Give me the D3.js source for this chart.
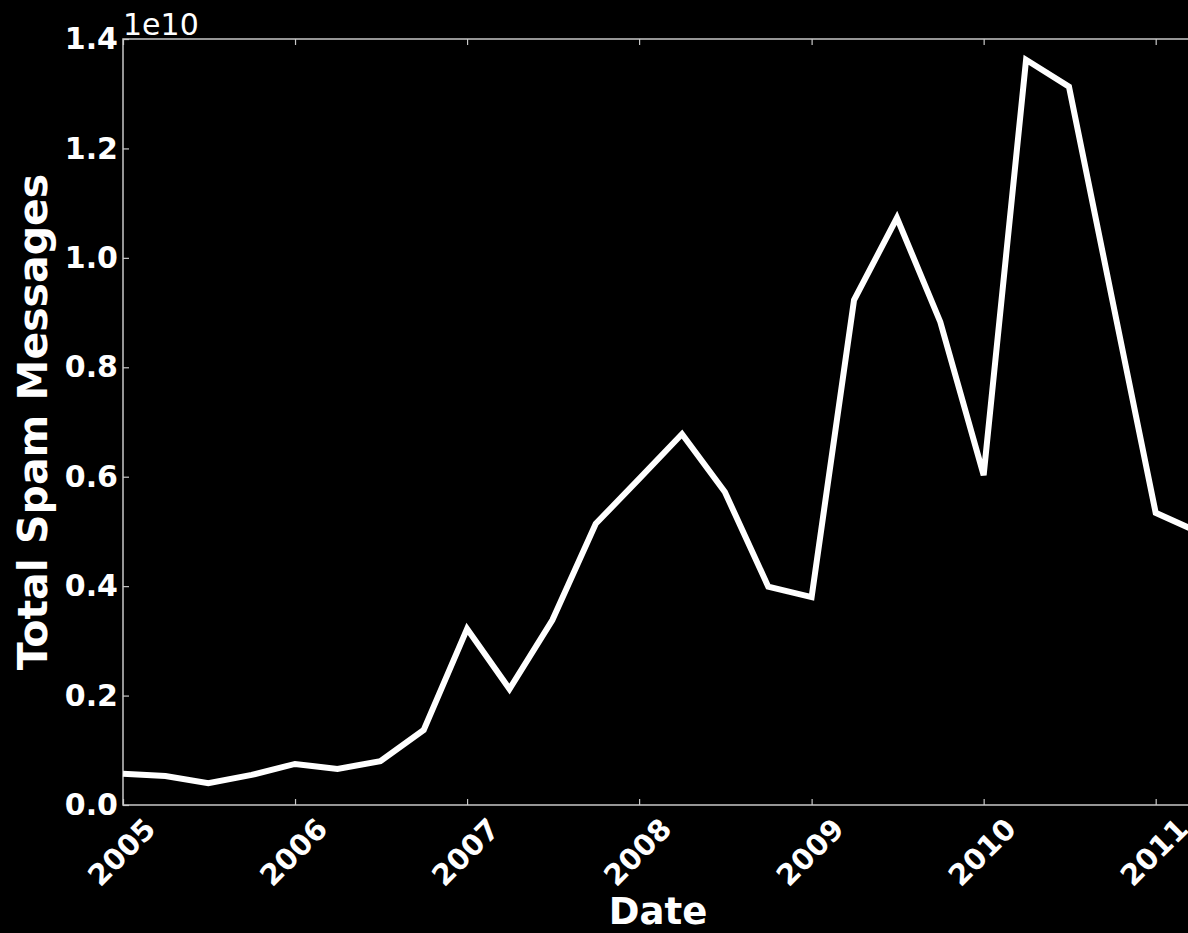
<!DOCTYPE html>
<html>
<head>
<meta charset="utf-8">
<script src="https://cdn.jsdelivr.net/npm/d3@7"></script>
<style>
  html, body { margin: 0; padding: 0; background: #000; }
  svg { display: block; font-family: "DejaVu Sans", sans-serif; }
</style>
</head>
<body>
<div id="chart"></div>
<script>
// quarterly totals (spam messages)
var dates = ["2005-01-01","2005-04-01","2005-07-01","2005-10-01",
             "2006-01-01","2006-04-01","2006-07-01","2006-10-01",
             "2007-01-01","2007-04-01","2007-07-01","2007-10-01",
             "2008-01-01","2008-04-01","2008-07-01","2008-10-01",
             "2009-01-01","2009-04-01","2009-07-01","2009-10-01",
             "2010-01-01","2010-04-01","2010-07-01","2010-10-01",
             "2011-01-01","2011-04-01"];
var spam = [0.057e10, 0.053e10, 0.040e10, 0.055e10,
            0.075e10, 0.066e10, 0.080e10, 0.137e10,
            0.322e10, 0.212e10, 0.338e10, 0.514e10,
            0.596e10, 0.678e10, 0.572e10, 0.399e10,
            0.380e10, 0.923e10, 1.073e10, 0.883e10,
            0.603e10, 1.362e10, 1.313e10, 0.923e10,
            0.534e10, 0.499e10];
var yTicks = [0, 0.2e10, 0.4e10, 0.6e10, 0.8e10, 1.0e10, 1.2e10, 1.4e10];
var xTickYears = ["2005","2006","2007","2008","2009","2010","2011"];

var W = 1188, H = 933;
var margin = {top: 39, left: 123, bottom: 128};
var height = H - margin.top - margin.bottom;
var parse = d3.timeParse("%Y-%m-%d");
var data = dates.map(function(d, i) { return {date: parse(d), value: spam[i]}; });

var xScale = d3.scaleTime()
    .domain([parse("2005-01-01"), parse("2011-07-01")])
    .range([0, 6.5 * 172]);
var width = xScale.range()[1];

var yScale = d3.scaleLinear()
    .domain([0, 1.4e10])
    .range([height, 0]);

var svg = d3.select("#chart").append("svg")
    .attr("width", W)
    .attr("height", H)
    .style("background", "#000");

var g = svg.append("g")
    .attr("transform", "translate(" + margin.left + "," + margin.top + ")");

var spineColor = "#c8c8c8";
var font = "'DejaVu Sans', sans-serif";
var xTickVals = xTickYears.map(function(y) { return parse(y + "-01-01"); });

// bottom axis, inward ticks
var xAxis = g.append("g")
    .attr("transform", "translate(0," + height + ")")
    .call(d3.axisBottom(xScale).tickValues(xTickVals).tickFormat(d3.timeFormat("%Y"))
        .tickSizeInner(-6).tickSizeOuter(0));
xAxis.selectAll("text")
    .attr("y", 0).attr("dy", "0.35em")
    .attr("text-anchor", "middle")
    .attr("transform", "translate(-2,47) rotate(-45)")
    .attr("fill", "#fff")
    .style("font-family", font)
    .style("font-size", "29px").style("font-weight", "bold");

// top axis ticks
g.append("g")
    .call(d3.axisTop(xScale).tickValues(xTickVals).tickFormat("")
        .tickSizeInner(-6).tickSizeOuter(0));

// left axis
var yAxis = g.append("g")
    .call(d3.axisLeft(yScale).tickValues(yTicks)
        .tickFormat(function(d) { return (d / 1e10).toFixed(1); })
        .tickSizeInner(-6).tickSizeOuter(0).tickPadding(5));
yAxis.selectAll("text")
    .attr("fill", "#fff")
    .style("font-family", font)
    .style("font-size", "30px").style("font-weight", "bold");

// right axis ticks (mostly off-canvas)
g.append("g")
    .attr("transform", "translate(" + width + ",0)")
    .call(d3.axisRight(yScale).tickValues(yTicks).tickFormat("")
        .tickSizeInner(-6).tickSizeOuter(0));

g.selectAll(".domain").remove();
g.selectAll(".tick line").attr("stroke", spineColor).attr("stroke-width", 1.2);

// frame
g.append("rect")
    .attr("x", 0).attr("y", 0)
    .attr("width", width).attr("height", height)
    .attr("fill", "none")
    .attr("stroke", spineColor)
    .attr("stroke-width", 1.5);

// the series
var valueLine = d3.line()
    .x(function(d) { return xScale(d.date); })
    .y(function(d) { return yScale(d.value); });

g.append("path")
    .datum(data)
    .attr("d", valueLine)
    .attr("fill", "none")
    .attr("stroke", "#fff")
    .attr("stroke-width", 6)
    .attr("stroke-linejoin", "miter");

// offset text
g.append("text")
    .attr("x", 0).attr("y", -4)
    .attr("fill", "#fff")
    .style("font-size", "30px")
    .text("1e10");

// axis labels
svg.append("text")
    .attr("transform", "translate(47," + (margin.top + height / 2) + ") rotate(-90)")
    .attr("text-anchor", "middle")
    .attr("fill", "#fff")
    .style("font-size", "41px").style("font-weight", "bold")
    .text("Total Spam Messages");

svg.append("text")
    .attr("x", 658).attr("y", 924)
    .attr("text-anchor", "middle")
    .attr("fill", "#fff")
    .style("font-size", "37px").style("font-weight", "bold")
    .text("Date");
</script>
</body>
</html>
